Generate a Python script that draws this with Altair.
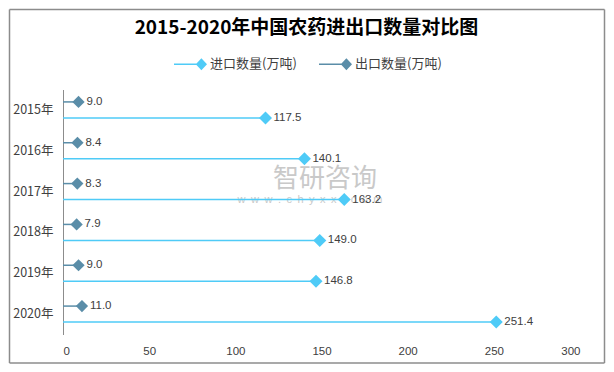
import altair as alt
import pandas as pd

years = ["2015年", "2016年", "2017年", "2018年", "2019年", "2020年"]
import_vals = [117.5, 140.1, 163.2, 149.0, 146.8, 251.4]
export_vals = [9.0, 8.4, 8.3, 7.9, 9.0, 11.0]
series_names = ["进口数量(万吨)", "出口数量(万吨)"]
series_colors = ["#4FCBF7", "#5A8DA8"]
x_ticks = [0, 50, 100, 150, 200, 250, 300]

rows = []
for y, v in zip(years, import_vals):
    rows.append({"year": y, "series": series_names[0], "value": v, "zero": 0})
for y, v in zip(years, export_vals):
    rows.append({"year": y, "series": series_names[1], "value": v, "zero": 0})
df = pd.DataFrame(rows)

W, H = 517, 245
PAD = {"left": 55, "top": 81.5, "right": 26, "bottom": 29.5}
CJK = "Noto Sans CJK SC"
LBL = "#404040"

color_scale = alt.Scale(domain=series_names, range=series_colors)
y_enc = alt.Y("year:N", sort=years,
              scale=alt.Scale(type="band", paddingInner=0, paddingOuter=0),
              axis=alt.Axis(title=None, ticks=False, labelPadding=10, domainColor="#8C8C8C",
                            domainWidth=1, labelFontSize=12.5, labelColor=LBL, labelFont=CJK))
x_enc = alt.X("value:Q", scale=alt.Scale(domain=[0, 300], nice=False),
              axis=alt.Axis(values=x_ticks, grid=False, domain=False, ticks=False,
                            labelPadding=11, title=None, labelFontSize=11.5,
                            labelColor=LBL, labelFont="Liberation Sans"))

legend_path = ("M-1,-0.045L0.4,-0.045L0.4,0.045L-1,0.045Z"
               "M0.32,0L0.66,-0.36L1,0L0.66,0.36Z")
legend_spec = alt.Legend(title=None, orient="none", legendX=111, legendY=-42,
                         direction="horizontal", symbolType=legend_path,
                         symbolSize=1089, symbolStrokeWidth=0, symbolOpacity=1,
                         labelFontSize=13, labelOffset=3, columnPadding=22,
                         padding=0, labelColor=LBL, labelFont=CJK)

base = alt.Chart(df)
one = alt.Data(values=[{"a": 1}])

# border (four rules)
bstyle = dict(color="#8C8C8C", strokeWidth=1.5)
L, R, T, B = -53.5, 541.5, -80, 273.5
border = [
    alt.Chart(one).mark_rule(**bstyle).encode(x=alt.value(L), x2=alt.value(R), y=alt.value(T)),
    alt.Chart(one).mark_rule(**bstyle).encode(x=alt.value(L), x2=alt.value(R), y=alt.value(B)),
    alt.Chart(one).mark_rule(**bstyle).encode(y=alt.value(T), y2=alt.value(B), x=alt.value(L)),
    alt.Chart(one).mark_rule(**bstyle).encode(y=alt.value(T), y2=alt.value(B), x=alt.value(R)),
]

# watermark
sp = "\u2002"
wm = alt.Chart(alt.Data(values=[{"t": "智研咨询"}])).mark_text(
    fontSize=26, font=CJK, color="#C9C9C9", align="center", baseline="middle"
).encode(x=alt.value(262), y=alt.value(89.5), text="t:N")
wm2 = alt.Chart(alt.Data(values=[{"t": sp.join("www.chyxx.com")}])).mark_text(
    fontSize=11, font="Liberation Sans", color="#C9C9C9", align="center", baseline="middle"
).encode(x=alt.value(247), y=alt.value(110), text="t:N")

layers = border + [wm, wm2]
offsets = {series_names[0]: 8, series_names[1]: -8}
sizes = {series_names[0]: 170, series_names[1]: 150}
points, rules, texts = [], [], []
for s, c in zip(series_names, series_colors):
    o = offsets[s]
    sub = base.transform_filter(alt.datum.series == s)
    rules.append(sub.mark_rule(strokeWidth=1.5, yOffset=o, color=c).encode(
        x=alt.X("zero:Q"),
        x2="value:Q",
        y=y_enc,
    ))
    points.append(sub.mark_point(shape="diamond", filled=True, opacity=1, size=sizes[s],
                                 yOffset=o).encode(
        x=x_enc,
        y=y_enc,
        color=alt.Color("series:N", scale=color_scale, legend=legend_spec),
    ))
    texts.append(sub.mark_text(align="left", baseline="middle", dx=8, yOffset=o, fontSize=11.5,
                               font="Liberation Sans", color=LBL).encode(
        x=alt.X("value:Q"), y=y_enc, text=alt.Text("value:Q", format=".1f")))
layers += rules + points + texts

chart = alt.layer(*layers).properties(
    width=W, height=H,
    autosize=alt.AutoSizeParams(type="none"),
    padding=PAD,
    title=alt.Title("2015-2020年中国农药进出口数量对比图", fontSize=19, font=CJK,
                    fontWeight="bold", color="#000000", anchor="middle", dx=-15, offset=-29),
).configure_view(stroke=None)

chart.save("out.html", embed_options={"renderer": "svg", "actions": False})
